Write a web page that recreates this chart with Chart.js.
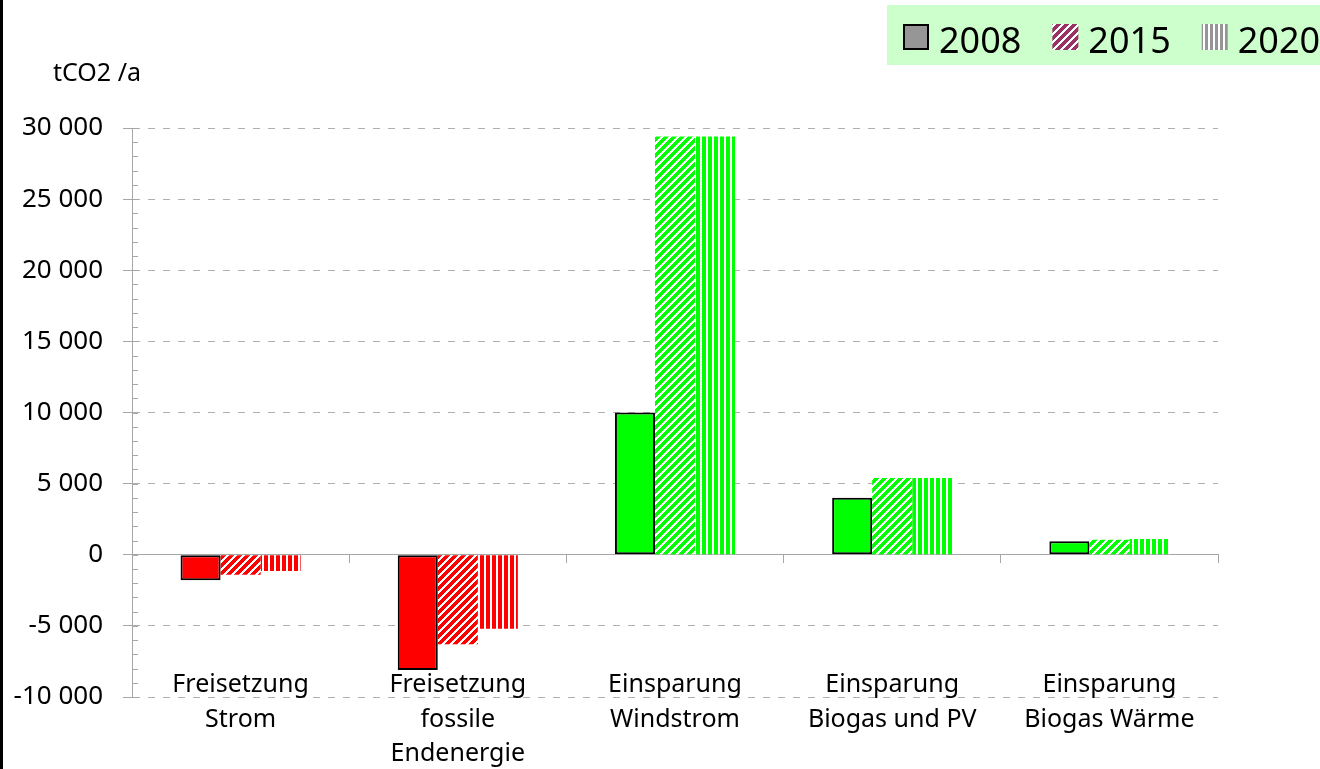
<!DOCTYPE html>
<html>
<head>
<meta charset="utf-8">
<script src="https://cdn.jsdelivr.net/npm/chart.js"></script>
<style>
  body { margin: 0; background: #fff; }
</style>
</head>
<body>
<canvas id="myChart" width="1320" height="769"></canvas>
<script>
  const categories = ['Freisetzung Strom', 'Freisetzung fossile Endenergie', 'Einsparung Windstrom', 'Einsparung Biogas und PV', 'Einsparung Biogas Wärme'];
  const categoryLines = [['Freisetzung', 'Strom'], ['Freisetzung', 'fossile', 'Endenergie'], ['Einsparung', 'Windstrom'], ['Einsparung', 'Biogas und PV'], ['Einsparung', 'Biogas Wärme']];
  const years = ['2008', '2015', '2020'];
  const values2008 = [-1800, -8100, 10000, 4000, 950];
  const values2015 = [-1400, -6300, 29400, 5400, 1050];
  const values2020 = [-1150, -5200, 29400, 5400, 1100];
  const yTicks = [-10000, -5000, 0, 5000, 10000, 15000, 20000, 25000, 30000];

  const canvas = document.getElementById('myChart');
  const ctx = canvas.getContext('2d');

  // small tiles for the hatched bars
  function makePattern(color, kind, period, on) {
    const c = document.createElement('canvas');
    c.width = period; c.height = period;
    const g = c.getContext('2d');
    g.fillStyle = '#fff';
    g.fillRect(0, 0, period, period);
    g.fillStyle = color;
    for (let y = 0; y < period; y++) {
      for (let x = 0; x < period; x++) {
        const hit = kind === 'diag' ? (x + y) % period < on : x < on;
        if (hit) g.fillRect(x, y, 1, 1);
      }
    }
    return ctx.createPattern(c, 'repeat');
  }

  const red = '#FF0000';
  const green = '#00FF00';
  const baseColors = categories.map(c => c.startsWith('Freisetzung') ? red : green);
  const diagFills = baseColors.map(c => makePattern(c, 'diag', 8, 5));
  const vertFills = baseColors.map(c => makePattern(c, 'vert', 6, 4));

  const legendFills = ['#969696', makePattern('#993366', 'diag', 8, 5), makePattern('#969696', 'vert', 5, 3)];

  const fmt = v => (v < 0 ? '-' : '') + Math.abs(v).toString().replace(/\B(?=(\d{3})+(?!\d))/g, ' ');

  const decor = {
    id: 'decor',
    beforeDraw(chart) {
      const c = chart.ctx;
      c.save();
      c.fillStyle = '#fff';
      c.fillRect(0, 0, chart.width, chart.height);
      c.restore();
    },
    afterDraw(chart) {
      const c = chart.ctx;
      const y = chart.scales.y;
      c.save();
      // frame line on the left
      c.fillStyle = '#000';
      c.fillRect(0, 0, 3, chart.height);

      // minor ticks inside the axis
      c.strokeStyle = '#a6a6a6';
      c.lineWidth = 1;
      for (let v = y.min; v <= y.max; v += 1000) {
        const py = Math.round(y.getPixelForValue(v)) + 0.5;
        c.beginPath();
        c.moveTo(y.right, py);
        c.lineTo(y.right + 6, py);
        c.stroke();
      }

      // unit label
      c.fillStyle = '#000';
      c.font = '25px "Noto Sans"';
      c.textBaseline = 'alphabetic';
      c.fillText('tCO2 /a', 53, 81);

      // legend box
      c.fillStyle = '#CCFFCC';
      c.fillRect(887, 5, chart.width - 887, 60);
      c.font = '36px "Noto Sans"';
      let lx = 903;
      years.forEach((yr, i) => {
        c.fillStyle = legendFills[i];
        c.fillRect(lx, 24, 26, 26);
        if (i === 0) {
          c.strokeStyle = '#000';
          c.lineWidth = 2;
          c.strokeRect(lx + 1, 25, 24, 24);
        }
        c.fillStyle = '#000';
        c.fillText(yr, lx + 36, 53);
        lx += 36 + c.measureText(yr).width + 31;
      });
      c.restore();
    }
  };

  new Chart(ctx, {
    type: 'bar',
    data: {
      labels: categories,
      datasets: [
        { label: years[0], data: values2008, backgroundColor: baseColors, borderColor: '#000', borderWidth: 2, borderSkipped: false },
        { label: years[1], data: values2015, backgroundColor: diagFills, borderWidth: 0 },
        { label: years[2], data: values2020, backgroundColor: vertFills, borderWidth: 0 }
      ]
    },
    options: {
      responsive: false,
      animation: false,
      categoryPercentage: 0.553,
      barPercentage: 1,
      layout: { padding: { top: 128, right: 102, bottom: 72, left: 0 } },
      plugins: {
        legend: { display: false },
        tooltip: { enabled: false }
      },
      scales: {
        x: {
          type: 'category',
          position: { y: 0 },
          offset: true,
          ticks: { display: false },
          grid: { offset: true, drawOnChartArea: false, tickLength: 8, color: '#a6a6a6' },
          border: { color: '#a6a6a6' }
        },
        x2: {
          type: 'category',
          labels: categoryLines,
          position: { y: yTicks[0] },
          offset: true,
          grid: { display: false },
          border: { display: false },
          ticks: {
            font: { family: 'Noto Sans', size: 25, lineHeight: 1.38 },
            color: '#000',
            padding: -37,
            maxRotation: 0,
            autoSkip: false
          }
        },
        y: {
          min: yTicks[0],
          max: yTicks[yTicks.length - 1],
          afterFit: s => { s.width = 132; },
          afterBuildTicks: s => { s.ticks = yTicks.map(v => ({ value: v })); },
          ticks: { font: { family: 'Noto Sans', size: 26 }, color: '#000', padding: 20, callback: fmt },
          grid: { color: '#b0b0b0', tickLength: 9, tickColor: '#a6a6a6' },
          border: { color: '#a6a6a6', dash: [7, 8] }
        }
      }
    },
    plugins: [decor]
  });
</script>
</body>
</html>
